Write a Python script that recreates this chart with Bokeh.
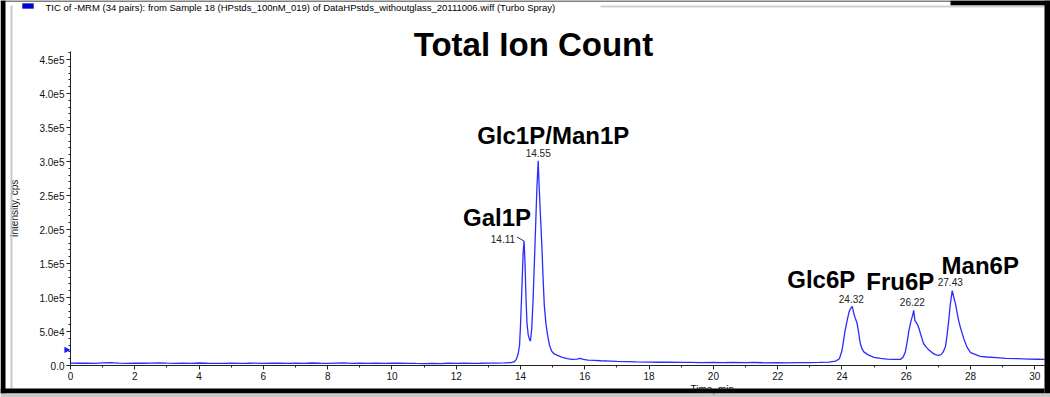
from bokeh.plotting import figure
from bokeh.models import ColumnDataSource, Label, FixedTicker, Range1d, BoxAnnotation
from bokeh.core.properties import value
from bokeh.embed import file_html
from bokeh.resources import INLINE

# ---------------- data ----------------
time_min = [
    0.0, 0.25, 0.5, 0.75, 1.0, 1.25, 1.5, 1.75, 2.0, 2.25, 2.5, 2.75, 3.0, 3.25, 3.5, 3.75,
    4.0, 4.25, 4.5, 4.75, 5.0, 5.25, 5.5, 5.75, 6.0, 6.25, 6.5, 6.75, 7.0, 7.25, 7.5, 7.75,
    8.0, 8.25, 8.5, 8.75, 9.0, 9.25, 9.5, 9.75, 10.0, 10.25, 10.5, 10.75, 11.0, 11.25, 11.5,
    11.75, 12.0, 12.25, 12.5, 12.75, 13.0, 13.25, 13.5, 13.7, 13.8, 13.87, 13.93, 13.97,
    14.0, 14.04, 14.08, 14.11, 14.14, 14.17, 14.2, 14.24, 14.28, 14.31, 14.35, 14.39, 14.43,
    14.47, 14.51, 14.55, 14.58, 14.62, 14.66, 14.7, 14.74, 14.79, 14.84, 14.9, 14.97, 15.05,
    15.15, 15.3, 15.45, 15.6, 15.75, 15.86, 15.95, 16.1, 16.3, 16.5, 16.8, 17.0, 17.3, 17.6,
    18.0, 18.3, 18.6, 19.0, 19.3, 19.6, 20.0, 20.3, 20.6, 21.0, 21.3, 21.6, 22.0, 22.3, 22.6,
    23.0, 23.3, 23.6, 23.8, 23.92, 24.0, 24.05, 24.1, 24.16, 24.22, 24.27, 24.32, 24.36,
    24.41, 24.47, 24.52, 24.57, 24.63, 24.68, 24.8, 24.99, 25.2, 25.4, 25.6, 25.82, 25.9,
    25.97, 26.03, 26.08, 26.15, 26.2, 26.23, 26.27, 26.31, 26.35, 26.4, 26.44, 26.5, 26.54,
    26.62, 26.7, 26.8, 26.9, 27.0, 27.08, 27.15, 27.22, 27.27, 27.32, 27.37, 27.43, 27.48,
    27.53, 27.58, 27.63, 27.69, 27.74, 27.8, 27.89, 28.0, 28.1, 28.3, 28.5, 28.8, 29.1,
    29.45, 29.8, 30.1, 30.3,
]
intensity_cps = [
    3500, 3300, 3600, 3200, 3900, 4300, 3400, 3100, 3500, 3300, 3600, 3900, 3400, 3200, 3500, 3100,
    3700, 3300, 3000, 3200, 3400, 3100, 3300, 3600, 3200, 3500, 3300, 3000, 3400, 3200, 3700, 3300,
    3100, 3500, 3800, 3200, 3300, 3000, 3400, 3100, 3300, 3500, 3200, 3000, 2900, 3100, 2800,
    3300, 3200, 3400, 3100, 3300, 3600, 3400, 3800, 4200, 5500, 9000, 18000, 30000,
    60000, 110000, 165000, 183000, 150000, 100000, 62000, 45000, 38000, 36000, 55000, 96000, 150000,
    205000, 262000, 301000, 262000, 220000, 180000, 130000, 88000, 62000, 45000, 30000, 21000, 17000,
    15000, 12000, 10000, 9000, 9500, 10500, 9000, 8000, 7500, 7000, 6500, 6000, 5800, 5200,
    5000, 4800, 5000, 4500, 4700, 4300, 4600, 4200, 4500, 4100, 4400, 4000, 4200, 3900, 4100,
    4300, 4600, 5000, 6500, 10000, 22000, 37000, 52000, 66000, 79000, 84000, 87000, 78000,
    70000, 62000, 48000, 32000, 24000, 20000, 16000, 12000, 10500, 9500, 9000, 9000, 12000,
    20000, 35000, 51000, 66000, 74000, 81000, 66000, 63000, 60000, 54000, 47000, 38000, 32000,
    27000, 23000, 19000, 16000, 15000, 16000, 20000, 28000, 45000, 66000, 90000, 110000, 100000,
    91000, 78000, 66000, 55000, 47000, 38000, 27000, 19000, 17000, 13500, 12500, 11500, 10500,
    10000, 9500, 9200, 9000,
]

peak_names = ["Gal1P", "Glc1P/Man1P", "Glc6P", "Fru6P", "Man6P"]
peak_times = [14.11, 14.55, 24.32, 26.22, 27.43]
peak_heights = [183000, 301000, 87000, 81000, 110000]

x_ticks = list(range(0, 31, 2))
x_minor = list(range(1, 31, 2))
y_ticks = [0, 50000, 100000, 150000, 200000, 250000, 300000, 350000, 400000, 450000]
y_tick_labels = ["0.0", "5.0e4", "1.0e5", "1.5e5", "2.0e5", "2.5e5", "3.0e5", "3.5e5", "4.0e5", "4.5e5"]
y_minor = list(range(0, 460001, 10000))

header_text = ("TIC of -MRM (34 pairs): from Sample 18 (HPstds_100nM_019) of "
               "DataHPstds_withoutglass_20111006.wiff (Turbo Spray)")
title_text = "Total Ion Count"
x_title = "Time, min"
y_title = "Intensity, cps"

# ---------------- layout / style ----------------
FONT = value("Liberation Sans")
LINE_BLUE = "#2b2bff"
W, H = 1050, 397          # canvas size
CX, CY = 0, 0             # canvas position in the picture
X0_PAGE, Y0_PAGE = 70, 365   # picture pixel of the data origin
PX_PER_MIN = 32.145
PX_PER_CPS = 68 / 1e5
X_MAX = 30.3
Y_TOP = (Y0_PAGE - 51) / PX_PER_CPS


def dx(px):
    return (px - X0_PAGE) / PX_PER_MIN


def dy(py):
    return (Y0_PAGE - py) / PX_PER_CPS


# pixel offsets of the labels relative to their peak tops
name_dx = [-27, 15, -31, -13, 28]
name_dy = [-24, -25, -27, -29, -25]
num_dx = [-9, 0, -1, -1, -2]
num_dy = [-2, -4, -3, -4, -5]
num_align = ["right", "center", "center", "center", "center"]
num_base = ["middle", "bottom", "bottom", "bottom", "bottom"]

p = figure(width=W, height=H, output_backend="svg", toolbar_location=None,
           x_range=Range1d(dx(CX), dx(CX + W)), y_range=Range1d(dy(CY + H), dy(CY)),
           min_border_left=0, min_border_right=0, min_border_top=0, min_border_bottom=0,
           title=None)
p.background_fill_color = "white"
p.border_fill_color = "white"
p.outline_line_color = None
p.xgrid.visible = False
p.ygrid.visible = False

p.xaxis.fixed_location = 0
p.yaxis.fixed_location = 0
p.xaxis.bounds = (0, X_MAX)
p.yaxis.bounds = (0, Y_TOP)
p.xaxis.ticker = FixedTicker(ticks=x_ticks, minor_ticks=x_minor)
p.yaxis.ticker = FixedTicker(ticks=y_ticks, minor_ticks=y_minor)
p.yaxis.major_label_overrides = {t: s for t, s in zip(y_ticks, y_tick_labels)}
for ax in (p.xaxis, p.yaxis):
    ax.axis_line_color = "#222222"
    ax.major_tick_line_color = "#222222"
    ax.minor_tick_line_color = "#222222"
    ax.major_tick_in = 0
    ax.major_tick_out = 4
    ax.minor_tick_in = 0
    ax.minor_tick_out = 2
    ax.major_label_text_font = "Liberation Sans"
    ax.major_label_text_font_size = "10px"
    ax.major_label_text_color = "#111111"
    ax.major_label_standoff = 2
p.yaxis.axis_label = y_title
p.yaxis.axis_label_text_font = "Liberation Sans"
p.yaxis.axis_label_text_font_size = "10px"
p.yaxis.axis_label_text_font_style = "normal"
p.yaxis.axis_label_text_color = "#111111"
p.yaxis.axis_label_standoff = 16

# trace
src = ColumnDataSource(dict(t=time_min, i=intensity_cps))
p.line("t", "i", source=src, line_color=LINE_BLUE, line_width=1.3)

# peak labels
peak_src = ColumnDataSource(dict(
    t=peak_times, h=peak_heights, name=peak_names,
    num=[f"{t:.2f}" for t in peak_times],
    ndx=name_dx, ndy=name_dy, vdx=num_dx, vdy=num_dy,
    valign=num_align, vbase=num_base,
))
p.text("t", "h", text="name", source=peak_src, x_offset="ndx", y_offset="ndy",
       text_align="center", text_baseline="alphabetic", text_font=FONT,
       text_font_size="24px", text_font_style="bold", text_color="#000000")
p.text("t", "h", text="num", source=peak_src, x_offset="vdx", y_offset="vdy",
       text_align="valign", text_baseline="vbase", text_font=FONT,
       text_font_size="10px", text_color="#222222")
lead = ColumnDataSource(dict(x0=[peak_times[0] - 0.22], y0=[peak_heights[0] + 4 / PX_PER_CPS],
                             x1=[peak_times[0]], y1=[peak_heights[0]]))
p.segment("x0", "y0", "x1", "y1", source=lead, line_color="#333333", line_width=1)

# screenshot frame (black border with light grey edge)
frame_boxes = [
    (0, 5, 0, 393, "#000000"),
    (0, 1050, 0, 1, "#000000"),
    (950, 1050, 0, 5, "#000000"),
    (600, 1044, 5, 7, "#d0d0d0"),
    (10, 12, 5, 388, "#c8c8c8"),
    (1044, 1050, 0, 393, "#000000"),
    (0, 1044, 388, 393, "#000000"),
    (0, 1050, 393, 397, "#c8c8c8"),
]
for l, r, t, b, c in frame_boxes:
    p.add_layout(BoxAnnotation(left=dx(l), right=dx(r), top=dy(t), bottom=dy(b),
                               fill_color=c, fill_alpha=1, line_color=None))

# title, header, axis title, marker
p.add_layout(Label(x=dx(533), y=dy(44), text=title_text, text_align="center",
                   text_baseline="alphabetic", text_font="Liberation Sans",
                   text_font_size="33px", text_font_style="bold", text_color="#000000"))
p.add_layout(Label(x=dx(45), y=dy(1), text=header_text, text_align="left",
                   text_baseline="top", text_font="Liberation Sans",
                   text_font_size="9.5px", text_color="#000000"))
p.add_layout(BoxAnnotation(left=dx(22), right=dx(33), top=dy(3), bottom=dy(8),
                           fill_color="#0000dd", fill_alpha=1, line_color="#000044",
                           line_width=1))
p.add_layout(Label(x=dx(690), y=dy(383), text=x_title, text_align="left",
                   text_baseline="top", text_font="Liberation Sans",
                   text_font_size="10px", text_color="#111111"))
p.add_layout(Label(x=0, y=24000, text="\u25b6", text_align="right",
                   text_baseline="middle", text_font="DejaVu Sans",
                   text_font_size="8px", text_color="#1a1aff"))

open("out.html", "w").write(file_html(p, INLINE))
